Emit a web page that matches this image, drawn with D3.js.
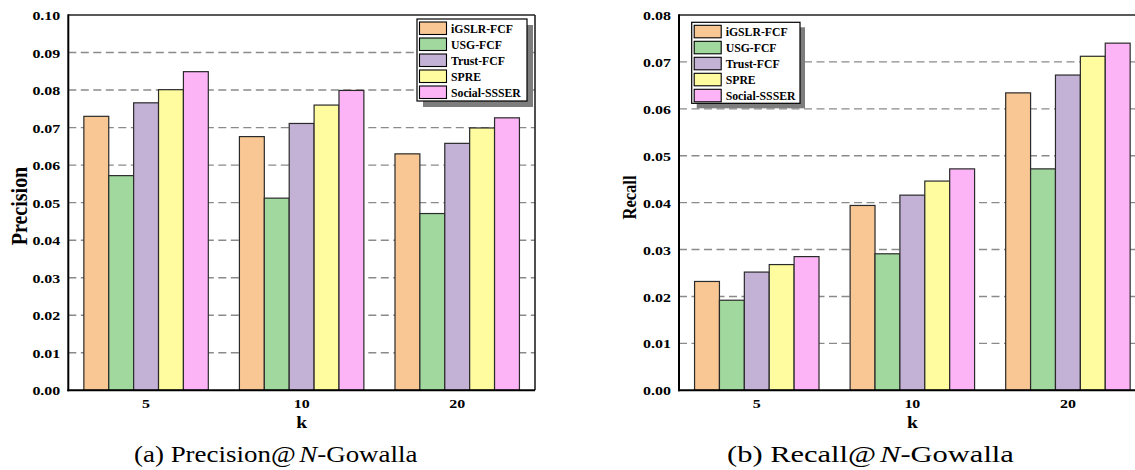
<!DOCTYPE html>
<html>
<head>
<meta charset="utf-8">
<script src="https://cdn.jsdelivr.net/npm/d3@7"></script>
<style>
  html, body { margin: 0; padding: 0; background: #fff; }
  svg { display: block; }
  text { font-family: "Liberation Serif", "Times New Roman", serif; }
</style>
</head>
<body>
<svg id="fig" width="1135" height="470"></svg>
<script>
// ---- data ----
const categories = ["5", "10", "20"];
const seriesNames = ["iGSLR-FCF", "USG-FCF", "Trust-FCF", "SPRE", "Social-SSSER"];
const seriesColors = ["#F9C794", "#A0D89E", "#C3B2D6", "#FFFCA0", "#FCB4F6"];

// Precision@N on Gowalla
const precIGSLR = [0.0730, 0.0676, 0.0630];
const precUSG   = [0.0572, 0.0512, 0.0471];
const precTrust = [0.0766, 0.0711, 0.0658];
const precSPRE  = [0.0801, 0.0760, 0.0699];
const precSSSER = [0.0849, 0.0799, 0.0726];

// Recall@N on Gowalla
const recIGSLR = [0.0232, 0.0394, 0.0634];
const recUSG   = [0.0192, 0.0291, 0.0472];
const recTrust = [0.0252, 0.0416, 0.0672];
const recSPRE  = [0.0268, 0.0446, 0.0712];
const recSSSER = [0.0285, 0.0472, 0.0740];

const precTicks = [0, 0.01, 0.02, 0.03, 0.04, 0.05, 0.06, 0.07, 0.08, 0.09, 0.10];
const recTicks  = [0, 0.01, 0.02, 0.03, 0.04, 0.05, 0.06, 0.07, 0.08];

// ---- drawing ----
const svg = d3.select("#fig");
const SX = 1.19; // horizontal text stretch

function stretched(g, x, y, str, opts) {
  const t = g.append("text")
    .attr("transform", `translate(${x},${y}) scale(${opts.sx || SX},1)` + (opts.rotate ? ` rotate(${opts.rotate})` : ""))
    .attr("text-anchor", opts.anchor || "middle")
    .attr("font-weight", opts.weight || "bold")
    .attr("font-size", opts.size)
    .attr("dominant-baseline", opts.baseline || "auto")
    .attr("fill", "#000")
    .text(str);
  return t;
}

function drawPanel(cfg) {
  const g = svg.append("g");
  const { left, right, top, bottom } = cfg;

  const x0 = d3.scaleBand().domain(categories).range([left, right])
    .paddingInner(0.2).paddingOuter(0.1);
  const x1 = d3.scaleBand().domain(seriesNames).range([0, x0.bandwidth()]);
  const y = d3.scaleLinear().domain([0, cfg.max]).range([bottom, top]);

  // dashed grid
  g.append("g").selectAll("line")
    .data(cfg.ticks.filter(t => t > 0 && t < cfg.max - 1e-9))
    .join("line")
    .attr("x1", left).attr("x2", right)
    .attr("y1", d => y(d)).attr("y2", d => y(d))
    .attr("stroke", "#8a8a8a").attr("stroke-width", 1.4)
    .attr("stroke-dasharray", "8,4.5");

  // bars
  const rows = categories.map((c, i) => ({
    cat: c,
    vals: seriesNames.map((s, j) => ({ s, j, v: cfg.series[j][i] }))
  }));
  g.append("g").selectAll("g").data(rows).join("g")
    .attr("transform", d => `translate(${x0(d.cat)},0)`)
    .selectAll("rect").data(d => d.vals).join("rect")
    .attr("x", d => x1(d.s))
    .attr("width", x1.bandwidth())
    .attr("y", d => y(d.v))
    .attr("height", d => y(0) - y(d.v))
    .attr("fill", d => seriesColors[d.j])
    .attr("stroke", "#2a2a2a").attr("stroke-width", 1.2);

  // frame: top and right borders
  g.append("line").attr("x1", left).attr("x2", right).attr("y1", top).attr("y2", top)
    .attr("stroke", "#222").attr("stroke-width", 1.6);
  g.append("line").attr("x1", right).attr("x2", right).attr("y1", top).attr("y2", bottom)
    .attr("stroke", "#222").attr("stroke-width", 1.6);

  // y axis
  const ya = g.append("g").attr("transform", `translate(${left},0)`)
    .call(d3.axisLeft(y).tickValues(cfg.ticks).tickSize(0).tickFormat(d3.format(".2f")));
  ya.select(".domain").remove();
  ya.selectAll(".tick text").remove();
  ya.selectAll(".tick").each(function (d) {
    stretched(d3.select(this), -8, 0, d3.format(".2f")(d), { anchor: "end", size: 13.4, baseline: "central" });
  });
  // x axis
  const xa = g.append("g").attr("transform", `translate(0,${bottom})`)
    .call(d3.axisBottom(x0).tickSize(0));
  xa.select(".domain").remove();
  xa.selectAll(".tick text").remove();
  xa.selectAll(".tick").each(function (d) {
    stretched(d3.select(this), 0, 18, d, { size: 13.4 });
  });

  // axis lines
  g.append("line").attr("x1", left).attr("x2", left).attr("y1", top - 0.8).attr("y2", bottom + 1)
    .attr("stroke", "#000").attr("stroke-width", 2);
  g.append("line").attr("x1", left - 1).attr("x2", right).attr("y1", bottom).attr("y2", bottom)
    .attr("stroke", "#000").attr("stroke-width", 2);

  // axis titles
  stretched(g, (left + right) / 2, 428, "k", { size: 16.5 });
  stretched(g, cfg.yTitleX, cfg.yTitleY, cfg.yTitle,
    { size: cfg.yTitleSize, rotate: -90, baseline: "central" });

  // legend
  const L = cfg.legend;
  const lg = g.append("g").attr("transform", `translate(${L.x},${L.y})`);
  lg.append("rect").attr("x", L.shadow).attr("y", L.shadow).attr("width", L.w).attr("height", L.h)
    .attr("fill", "#7d7d7d");
  lg.append("rect").attr("width", L.w).attr("height", L.h)
    .attr("fill", "#fff").attr("stroke", "#000").attr("stroke-width", 1.2);
  seriesNames.forEach((s, i) => {
    const ry = 3 + i * 16;
    lg.append("rect").attr("x", 2.5).attr("y", ry).attr("width", 27).attr("height", 12.5)
      .attr("fill", seriesColors[i]).attr("stroke", "#000").attr("stroke-width", 1.1);
    stretched(lg, 34, ry + 6.8, s, { anchor: "start", size: 13.5, baseline: "central", sx: 0.87 });
  });

  // caption
  const cap = g.append("text")
    .attr("font-size", 23).attr("font-weight", "normal").attr("fill", "#000");
  cap.append("tspan").text(cfg.capA);
  cap.append("tspan").attr("dx", 3).attr("font-style", "italic").text("N");
  cap.append("tspan").text("-Gowalla");
  const w = cap.node().getComputedTextLength();
  const s = cfg.capW / w;
  cap.attr("transform", `translate(${cfg.capX},462) scale(${s},1)`);
}

drawPanel({
  left: 68.3, right: 535, top: 15, bottom: 390.3, max: 0.10, ticks: precTicks,
  series: [precIGSLR, precUSG, precTrust, precSPRE, precSSSER],
  yTitle: "Precision", yTitleX: 18.5, yTitleY: 206, yTitleSize: 20,
  legend: { x: 417, y: 19, w: 110, h: 82, shadow: 6 },
  capA: "(a) Precision@", capX: 134, capW: 280
});

drawPanel({
  left: 679, right: 1145.7, top: 15, bottom: 390.3, max: 0.08, ticks: recTicks,
  series: [recIGSLR, recUSG, recTrust, recSPRE, recSSSER],
  yTitle: "Recall", yTitleX: 630, yTitleY: 197.5, yTitleSize: 16.5,
  legend: { x: 691.7, y: 22.3, w: 108.3, h: 81, shadow: 5 },
  capA: "(b) Recall@", capX: 727, capW: 283
});
</script>
</body>
</html>
